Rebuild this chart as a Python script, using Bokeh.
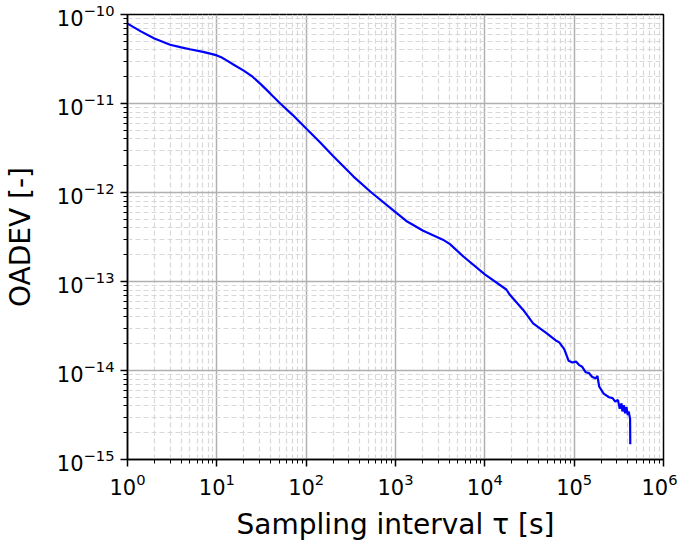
from bokeh.plotting import figure
from bokeh.models import FixedTicker, Range1d
from bokeh.embed import file_html
from bokeh.resources import INLINE

# Sampling interval tau [s]
tau = [1, 1.41, 2, 3, 4, 5, 7, 8.9, 10, 11.2, 12.6, 15.8, 20, 25.1, 31.6, 39.8,
       51.3, 70.8, 100, 141, 200, 339, 537, 1000, 1320, 2040, 3390, 4070, 5750,
       10000, 17400, 19050, 26900, 34700, 49000, 61660, 68080, 77450, 86500,
       95500, 104700, 113800, 123000, 134900, 146900, 158500, 173800, 182000,
       190500, 213800, 245500, 269200, 288400, 309000, 323600, 338800, 346700,
       358900, 371500, 384600, 398100, 407400, 422700, 424600]
# OADEV [-]
oadev = [7.9e-11, 6.46e-11, 5.37e-11, 4.57e-11, 4.27e-11, 4.07e-11, 3.80e-11,
         3.59e-11, 3.47e-11, 3.31e-11, 3.09e-11, 2.69e-11, 2.34e-11, 2.0e-11,
         1.62e-11, 1.29e-11, 1.0e-11, 7.41e-12, 5.25e-12, 3.72e-12, 2.57e-12,
         1.51e-12, 1.0e-12, 6.03e-13, 4.79e-13, 3.72e-13, 2.95e-13, 2.63e-13,
         1.91e-13, 1.20e-13, 8.13e-14, 7.08e-14, 4.79e-14, 3.39e-14, 2.63e-14,
         2.19e-14, 2.07e-14, 1.74e-14, 1.29e-14, 1.23e-14, 1.26e-14, 1.15e-14,
         1.10e-14, 9.55e-15, 9.33e-15, 8.51e-15, 8.13e-15, 8.71e-15, 6.61e-15,
         5.50e-15, 5.01e-15, 4.90e-15, 4.47e-15, 4.68e-15, 3.72e-15, 4.27e-15,
         3.47e-15, 4.07e-15, 3.31e-15, 3.89e-15, 3.16e-15, 3.47e-15, 2.88e-15,
         1.48e-15]

x_major = [1e0, 1e1, 1e2, 1e3, 1e4, 1e5, 1e6]
y_major = [1e-15, 1e-14, 1e-13, 1e-12, 1e-11, 1e-10]
mant = [2, 3, 4, 5, 6, 7, 8, 9]

x_minor = [m * d for d in x_major[:-1] for m in mant]
y_minor = [m * d for d in y_major[:-1] for m in mant]

FONT = "DejaVu Sans"

p = figure(width=677, height=543, x_axis_type="log", y_axis_type="log",
           x_range=Range1d(1, 1e6), y_range=Range1d(1e-15, 1e-10),
           output_backend="svg", toolbar_location=None,
           min_border_left=127, min_border_right=14, min_border_top=14,
           min_border_bottom=81)

p.line(tau, oadev, line_color="#0000ff", line_width=2.2)

p.xaxis.ticker = FixedTicker(ticks=x_major, minor_ticks=x_minor)
p.yaxis.ticker = FixedTicker(ticks=y_major, minor_ticks=y_minor)

for ax in (p.xaxis, p.yaxis):
    ax.axis_line_color = "black"
    ax.axis_line_width = 1.5
    ax.major_tick_line_color = "black"
    ax.major_tick_line_width = 1.5
    ax.major_tick_out = 7
    ax.major_tick_in = 0
    ax.minor_tick_line_color = "black"
    ax.minor_tick_line_width = 1
    ax.minor_tick_out = 4
    ax.minor_tick_in = 0
    ax.major_label_text_font = FONT
    ax.major_label_text_font_size = "21px"
    ax.major_label_text_color = "black"
    ax.axis_label_text_font = FONT
    ax.axis_label_text_font_style = "normal"
    ax.axis_label_text_color = "black"
    ax.axis_label_text_font_size = "28px"

p.xaxis.axis_label = "Sampling interval τ [s]"
p.yaxis.axis_label = "OADEV [-]"
p.xaxis.major_label_standoff = 6
p.yaxis.major_label_standoff = 6
p.xaxis.axis_label_standoff = 10
p.yaxis.axis_label_standoff = 17

for g in (p.xgrid, p.ygrid):
    g.grid_line_color = "#b0b0b0"
    g.grid_line_width = 1.5
    g.minor_grid_line_color = "#d8d8d8"
    g.minor_grid_line_width = 1.2
    g.minor_grid_line_dash = "5 3"

p.outline_line_color = "black"
p.outline_line_width = 1.5
p.outline_line_alpha = 1
p.background_fill_color = "white"
p.border_fill_color = "white"

open("out.html", "w").write(file_html(p, INLINE))
